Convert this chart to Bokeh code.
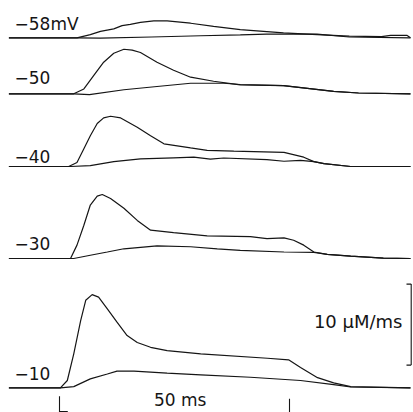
from bokeh.plotting import figure
from bokeh.models import Range1d
from bokeh.embed import file_html
from bokeh.resources import INLINE
from bokeh.core.properties import value

# ---- data (time in ms from stimulus onset, flux in uM/ms above each baseline) ----
labels = ["\u221258mV", "\u221250", "\u221240", "\u221230", "\u221210"]

t_58_big = [-11, 3.8, 6.7, 8.9, 11.8, 13.6, 15.4, 17.6, 20.5, 23.4, 28.5, 33.5, 39.3, 48.7, 56, 63, 70, 72, 75.5, 76.3]
y_58_big = [0, 0, 0.4, 0.8, 1.1, 1.5, 1.65, 1.9, 2.1, 2.1, 1.8, 1.4, 1.0, 0.6, 0.4, 0.2, 0.15, 0.3, 0.3, 0]
t_58_small = [-11, 3.8, 8.9, 20, 30.7, 39.3, 45, 56, 63, 76.3]
y_58_small = [0, 0, -0.05, 0.1, 0.25, 0.35, 0.45, 0.45, 0.1, 0]

t_50_big = [-11, 3.1, 5.3, 7.5, 9.6, 11.8, 14, 15.8, 17.6, 21.2, 24.8, 28.5, 33.5, 39.3, 48.7, 59.6, 65, 76.3]
y_50_big = [0, 0, 0.6, 2.3, 3.9, 5.0, 5.5, 5.4, 5.1, 3.9, 2.9, 2.05, 1.55, 1.1, 1.0, 0.3, 0.1, 0]
t_50_small = [-11, 3.1, 6.5, 14, 21.2, 28.5, 35.7, 39.3, 48.7, 59.6, 65, 76.3]
y_50_small = [0, 0, -0.1, 0.5, 0.9, 1.3, 1.3, 1.15, 1.0, 0.3, 0.1, 0]

t_40_big = [-11, 2.0, 3.8, 5.3, 6.7, 8.2, 9.6, 11.1, 13.3, 16.9, 19.8, 22.7, 28.5, 32.1, 37.9, 48.8, 53.1, 55.3, 57.5, 63.3, 76.3]
y_40_big = [0, 0, 0.5, 2.2, 3.8, 5.3, 6.0, 6.2, 6.0, 4.85, 3.8, 2.8, 2.3, 2.0, 1.9, 1.75, 1.15, 0.6, 0.35, 0, 0]
t_40_small = [-11, 2.4, 6.7, 11.8, 17.6, 24.8, 29.2, 32.8, 35.7, 45.1, 48.8, 52.4, 55.3, 57.5, 63.3, 76.3]
y_40_small = [0, 0, 0.1, 0.6, 0.95, 1.07, 1.15, 0.9, 1.05, 0.85, 0.65, 0.75, 0.6, 0.35, 0, 0]

t_30_big = [-11, 2.4, 3.8, 5.3, 6.7, 8.2, 9.3, 11.1, 14, 16.9, 19.8, 24.8, 32.1, 41.5, 45.1, 48.8, 50.9, 53.1, 55.3, 58.2, 63.3, 70.4, 76.3]
y_30_big = [0, 0, 1.65, 4.1, 6.6, 7.7, 7.9, 7.4, 6.2, 4.7, 3.5, 3.2, 2.8, 2.7, 2.45, 2.55, 2.25, 1.65, 0.8, 0.5, 0.3, 0.05, 0]
t_30_small = [-11, 3.1, 6.7, 10.4, 14, 21.2, 28.5, 34.3, 39.3, 48.8, 55.3, 58.2, 63.3, 70.4, 76.3]
y_30_small = [0, 0, 0.4, 0.8, 1.2, 1.55, 1.45, 1.2, 1.0, 0.8, 0.75, 0.5, 0.3, 0.05, 0]

t_10_big = [-11, 0.2, 1.7, 3.1, 4.6, 5.7, 7.1, 8.5, 10.4, 12.5, 14.7, 16.9, 19.8, 23.4, 30.7, 45.2, 49.8, 52.4, 56.1, 59.6, 63.3, 76.3]
y_10_big = [0, 0, 0.9, 4.2, 8.3, 10.8, 11.5, 11.2, 9.75, 8.1, 6.45, 5.6, 5.0, 4.6, 4.2, 3.65, 3.45, 2.5, 1.25, 0.6, 0.15, 0]
t_10_small = [-11, 0.2, 3.1, 6.7, 10.4, 12.5, 16.2, 23.4, 30.7, 41.5, 52.4, 59.6, 63.3, 76.3]
y_10_small = [0, 0, 0.15, 1.1, 1.7, 2.05, 2.05, 1.8, 1.6, 1.3, 0.9, 0.4, 0.1, 0]

traces = [
    (t_58_big, y_58_big, t_58_small, y_58_small),
    (t_50_big, y_50_big, t_50_small, y_50_small),
    (t_40_big, y_40_big, t_40_small, y_40_small),
    (t_30_big, y_30_big, t_30_small, y_30_small),
    (t_10_big, y_10_big, t_10_small, y_10_small),
]

scale_t = 50      # ms
scale_flux = 10   # uM/ms

# ---- layout ----
PX_PER_MS = 4.6
PX_PER_UNIT = 8.1
W, H = 413, 412
X0 = 59  # pixel of t = 0
baseline_px = [37.3, 93.3, 166.0, 258.0, 387.3]
label_lift_px = [13.8, 16.3, 10.0, 15.0, 14.8]

def ypx(py):
    return (H - py) / PX_PER_UNIT

offsets = [ypx(b) for b in baseline_px]

p = figure(width=W, height=H, output_backend="svg", toolbar_location=None,
           x_range=Range1d(-X0 / PX_PER_MS, (W - X0) / PX_PER_MS),
           y_range=Range1d(0, H / PX_PER_UNIT),
           x_axis_type=None, y_axis_type=None, min_border=0)
p.grid.visible = False
p.outline_line_color = None
p.background_fill_color = "white"
p.border_fill_color = "white"

ink = "#151515"
for (tb, yb, ts, ys), off in zip(traces, offsets):
    p.line(ts, [v + off for v in ys], line_color=ink, line_width=1.2)
    p.line(tb, [v + off for v in yb], line_color=ink, line_width=1.2)

font = value("DejaVu Sans")
lx = (14 - X0) / PX_PER_MS
p.text(x=[lx] * len(labels),
       y=[off + lift / PX_PER_UNIT for off, lift in zip(offsets, label_lift_px)],
       text=labels, text_font=font, text_font_size="17px",
       text_color=ink, text_align="left", text_baseline="middle")

# horizontal time scale (50 ms) below the last trace
base = offsets[-1]
tick_top = base - 8.5 / PX_PER_UNIT
tick_bot = base - 25 / PX_PER_UNIT
p.segment(x0=[0, scale_t], y0=[tick_top, tick_top - 0.3], x1=[0, scale_t], y1=[tick_bot, tick_bot],
          line_color=ink, line_width=1.1)
p.segment(x0=[0], y0=[base - 23.7 / PX_PER_UNIT], x1=[1.8], y1=[base - 23.7 / PX_PER_UNIT],
          line_color=ink, line_width=1.1)
p.text(x=[scale_t * 0.525], y=[base - 12.2 / PX_PER_UNIT], text=["50 ms"],
       text_font=font, text_font_size="17px", text_color=ink,
       text_align="center", text_baseline="middle")

# vertical flux scale (10 uM/ms) bracket at right
bx = (410.7 - X0) / PX_PER_MS
bx_in = (406 - X0) / PX_PER_MS
b_lo = base + 22.7 / PX_PER_UNIT
b_hi = b_lo + scale_flux
p.segment(x0=[bx, bx_in, bx_in], y0=[b_lo, b_lo, b_hi], x1=[bx, bx, bx], y1=[b_hi, b_lo, b_hi],
          line_color=ink, line_width=1.1)
p.text(x=[(402 - X0) / PX_PER_MS], y=[base + 66 / PX_PER_UNIT], text=["10 \u03bcM/ms"],
       text_font=font, text_font_size="18px", text_color=ink,
       text_align="right", text_baseline="middle")

open("out.html", "w").write(file_html(p, INLINE))
